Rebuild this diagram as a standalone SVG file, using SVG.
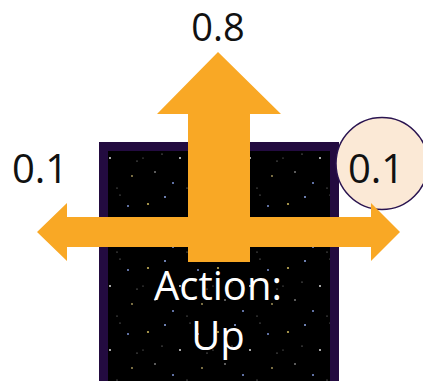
<svg xmlns="http://www.w3.org/2000/svg" width="423" height="381" viewBox="0 0 423 381">
<style>
.lbl{font-family:"Open Sans","Noto Sans",sans-serif;font-size:40px;fill:#111;text-anchor:middle}
.wl{font-family:"Open Sans","Noto Sans",sans-serif;font-size:40px;fill:#fff;text-anchor:middle}
.arrow{fill:#f9a825}
</style>
<defs>
<pattern id="stars" width="70" height="64" patternUnits="userSpaceOnUse">
<rect width="70" height="64" fill="#000"/>
<circle cx="8" cy="12" r="1.1" fill="#c9b45a"/>
<circle cx="25" cy="5" r="1" fill="#8fa8e8"/>
<circle cx="40" cy="30" r="1" fill="#dddddd"/>
<circle cx="58" cy="14" r="1" fill="#7f95d8"/>
<circle cx="15" cy="44" r="0.8" fill="#cccccc"/>
<circle cx="33" cy="55" r="1" fill="#7f95d8"/>
<circle cx="62" cy="48" r="0.9" fill="#b0a060"/>
<circle cx="50" cy="3" r="0.6" fill="#999"/>
<circle cx="3" cy="30" r="0.6" fill="#888"/>
<circle cx="22" cy="26" r="0.6" fill="#aaa"/>
<circle cx="47" cy="60" r="0.6" fill="#999"/>
<circle cx="67" cy="33" r="0.6" fill="#aaa"/>
</pattern>
</defs>
<g id="state">
<rect x="103.5" y="146.5" width="231" height="240" fill="url(#stars)" stroke="#230b40" stroke-width="9"/>
<text class="wl" x="218" y="300">Action:</text>
<text class="wl" x="218" y="350">Up</text>
</g>
<g id="highlight">
<circle cx="382" cy="163.5" r="46" fill="#fbe9d6" stroke="#2a1450" stroke-width="1.5"/>
</g>
<g id="connectors">
<polygon class="arrow" points="37,232 67,203 67,217 371,217 371,203 400,232 371,261 371,247 67,247 67,261"/>
<polygon class="arrow" points="218,52 281,114 250,114 250,262 188,262 188,114 157,114"/>
</g>
<g id="labels">
<text class="lbl" x="218" y="41" style="font-size:38px">0.8</text>
<text class="lbl" x="40" y="183">0.1</text>
<text class="lbl" x="376" y="183">0.1</text>
</g>
</svg>
